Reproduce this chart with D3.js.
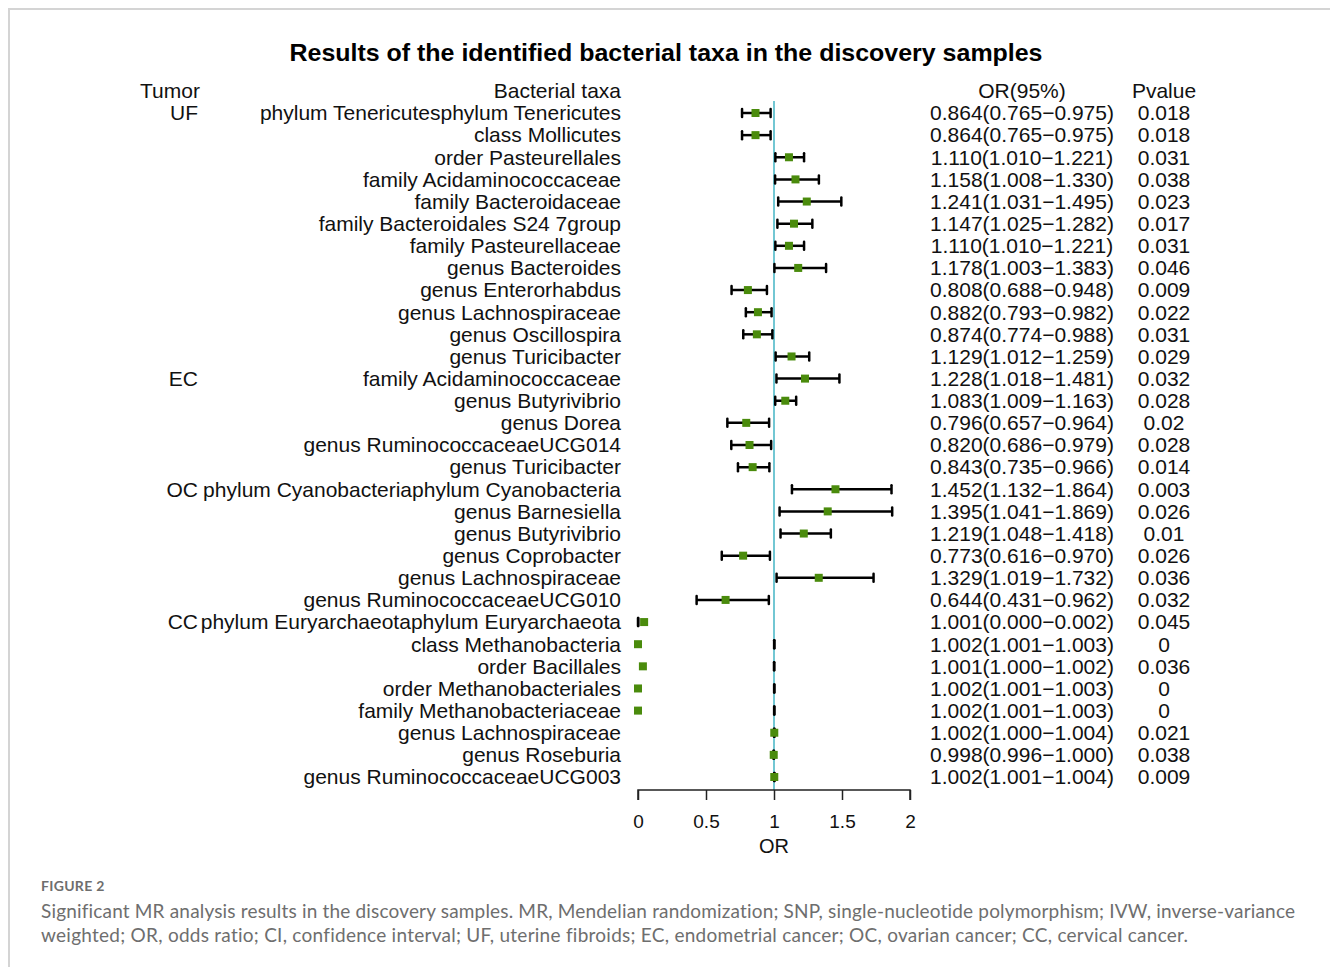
<!DOCTYPE html>
<html>
<head>
<meta charset="utf-8">
<script src="https://cdn.jsdelivr.net/npm/d3@7"></script>
<style>
  body { margin: 0; background: #fff; }
  svg { display: block; }
</style>
</head>
<body>
<svg id="chart"></svg>
<script>
// tumor group for each row (label shown on first row of the group)
var tumors = ["UF","UF","UF","UF","UF","UF","UF","UF","UF","UF","UF","UF",
  "EC","EC","EC","EC","EC",
  "OC","OC","OC","OC","OC","OC",
  "CC","CC","CC","CC","CC","CC","CC","CC"];

var taxa = [
  "phylum Tenericutesphylum Tenericutes","class Mollicutes","order Pasteurellales",
  "family Acidaminococcaceae","family Bacteroidaceae","family Bacteroidales S24 7group",
  "family Pasteurellaceae","genus Bacteroides","genus Enterorhabdus","genus Lachnospiraceae",
  "genus Oscillospira","genus Turicibacter",
  "family Acidaminococcaceae","genus Butyrivibrio","genus Dorea","genus RuminococcaceaeUCG014",
  "genus Turicibacter",
  "phylum Cyanobacteriaphylum Cyanobacteria","genus Barnesiella","genus Butyrivibrio",
  "genus Coprobacter","genus Lachnospiraceae","genus RuminococcaceaeUCG010",
  "phylum Euryarchaeotaphylum Euryarchaeota","class Methanobacteria","order Bacillales",
  "order Methanobacteriales","family Methanobacteriaceae","genus Lachnospiraceae",
  "genus Roseburia","genus RuminococcaceaeUCG003"];

var orVal = [0.864,0.864,1.110,1.158,1.241,1.147,1.110,1.178,0.808,0.882,0.874,1.129,
  1.228,1.083,0.796,0.820,0.843,
  1.452,1.395,1.219,0.773,1.329,0.644,
  1.001,1.002,1.001,1.002,1.002,1.002,0.998,1.002];
var ciLow = [0.765,0.765,1.010,1.008,1.031,1.025,1.010,1.003,0.688,0.793,0.774,1.012,
  1.018,1.009,0.657,0.686,0.735,
  1.132,1.041,1.048,0.616,1.019,0.431,
  0.000,1.001,1.000,1.001,1.001,1.000,0.996,1.001];
var ciHigh = [0.975,0.975,1.221,1.330,1.495,1.282,1.221,1.383,0.948,0.982,0.988,1.259,
  1.481,1.163,0.964,0.979,0.966,
  1.864,1.869,1.418,0.970,1.732,0.962,
  0.002,1.003,1.002,1.003,1.003,1.004,1.000,1.004];
var pText = ["0.018","0.018","0.031","0.038","0.023","0.017","0.031","0.046","0.009","0.022","0.031","0.029",
  "0.032","0.028","0.02","0.028","0.014",
  "0.003","0.026","0.01","0.026","0.036","0.032",
  "0.045","0","0.036","0","0","0.021","0.038","0.009"];
// where the square is actually drawn in the figure (a few CC rows sit near 0)
var pointPos = [0.864,0.864,1.110,1.158,1.241,1.147,1.110,1.178,0.808,0.882,0.874,1.129,
  1.228,1.083,0.796,0.820,0.843,
  1.452,1.395,1.219,0.773,1.329,0.644,
  0.045,0,0.036,0,0,1.002,0.998,1.002];

var xTicks = [0,0.5,1,1.5,2];

var W = 1330, H = 967;
var svg = d3.select("#chart").attr("width", W).attr("height", H);
var font = "'Liberation Sans', Arial, sans-serif";

// card border
svg.append("path")
  .attr("d", "M9,967 V9 H1330")
  .attr("fill","none").attr("stroke","#d4d4d4").attr("stroke-width",2);

svg.append("text")
  .attr("x", 666).attr("y", 53).attr("dy","0.35em")
  .attr("text-anchor","middle")
  .style("font-family", font).style("font-weight","bold").style("font-size","24px")
  .attr("textLength", 753).attr("lengthAdjust","spacingAndGlyphs")
  .text("Results of the identified bacterial taxa in the discovery samples");

var x = d3.scaleLinear().domain([0,2]).range([638,910]);
var y = d3.scaleLinear().domain([0, taxa.length-1]).range([113,777]);

var g = svg.append("g").style("font-family", font).style("font-size","21px").style("fill","#111");

// headers
var hy = 91;
g.append("text").attr("x",140).attr("y",hy).attr("dy","0.35em").text("Tumor");
g.append("text").attr("x",621).attr("y",hy).attr("dy","0.35em").attr("text-anchor","end").text("Bacterial taxa");
g.append("text").attr("x",1022).attr("y",hy).attr("dy","0.35em").attr("text-anchor","middle").text("OR(95%)");
g.append("text").attr("x",1164).attr("y",hy).attr("dy","0.35em").attr("text-anchor","middle").text("Pvalue");

var rows = taxa.map(function(t,i){ return {i:i, taxon:t, tumor:tumors[i], or:orVal[i], lo:ciLow[i], hi:ciHigh[i], p:pText[i], pt:pointPos[i]}; });

g.selectAll("text.tumor").data(rows.filter(function(d){ return d.i===0 || tumors[d.i-1]!==d.tumor; }))
  .enter().append("text").attr("class","tumor")
  .attr("x",198).attr("y",function(d){ return y(d.i); }).attr("dy","0.35em")
  .attr("text-anchor","end").text(function(d){ return d.tumor; });

g.selectAll("text.taxon").data(rows).enter().append("text").attr("class","taxon")
  .attr("x",621).attr("y",function(d){ return y(d.i); }).attr("dy","0.35em")
  .attr("text-anchor","end").text(function(d){ return d.taxon; });

g.selectAll("text.ortxt").data(rows).enter().append("text").attr("class","ortxt")
  .attr("x",1022).attr("y",function(d){ return y(d.i); }).attr("dy","0.35em")
  .attr("text-anchor","middle")
  .text(function(d){ return d.or.toFixed(3)+"("+d.lo.toFixed(3)+"\u2212"+d.hi.toFixed(3)+")"; });

g.selectAll("text.ptxt").data(rows).enter().append("text").attr("class","ptxt")
  .attr("x",1164).attr("y",function(d){ return y(d.i); }).attr("dy","0.35em")
  .attr("text-anchor","middle").text(function(d){ return d.p; });

// reference line at OR = 1
svg.append("line")
  .attr("x1",x(1)).attr("x2",x(1)).attr("y1",101).attr("y2",790)
  .attr("stroke","#72c7d3").attr("stroke-width",2);

var bars = svg.append("g");
bars.selectAll("line.ci").data(rows).enter().append("line")
  .attr("x1",function(d){ return x(d.lo); }).attr("x2",function(d){ return x(d.hi); })
  .attr("y1",function(d){ return y(d.i); }).attr("y2",function(d){ return y(d.i); })
  .attr("stroke","#000").attr("stroke-width",2.5);
["lo","hi"].forEach(function(k){
  bars.selectAll("line.cap"+k).data(rows).enter().append("line")
    .attr("x1",function(d){ return x(d[k]); }).attr("x2",function(d){ return x(d[k]); })
    .attr("y1",function(d){ return y(d.i)-4; }).attr("y2",function(d){ return y(d.i)+4; })
    .attr("stroke","#000").attr("stroke-width",2.5).attr("stroke-linecap","round");
});
bars.selectAll("rect.pt").data(rows).enter().append("rect")
  .attr("x",function(d){ return x(d.pt)-4; }).attr("y",function(d){ return y(d.i)-4; })
  .attr("width",8).attr("height",8).attr("fill","#4a8b0c");

// x axis
var axisG = svg.append("g").attr("transform","translate(0,790)")
  .call(d3.axisBottom(x).tickValues(xTicks).tickSize(10).tickPadding(15).tickFormat(d3.format("")));
axisG.select(".domain").attr("d","M"+x(0)+",10V0H"+x(2)+"V10").attr("stroke","#222").attr("stroke-width",1.5);
axisG.selectAll(".tick line").attr("stroke","#222").attr("stroke-width",1.5);
axisG.selectAll(".tick text").style("font-family",font).style("font-size","19px").attr("fill","#111");

svg.append("text").attr("x",x(1)).attr("y",846).attr("dy","0.35em").attr("text-anchor","middle")
  .style("font-family",font).style("font-size","20px").style("fill","#111").text("OR");

// caption
var cap = svg.append("g").style("font-family","Lato, 'Open Sans', sans-serif").style("fill","#6e6e6e")
  .style("font-variant-ligatures","none");
cap.append("text").attr("x",41).attr("y",886).attr("dy","0.35em")
  .style("font-size","14px").style("font-weight","bold").style("letter-spacing","0.3px").text("FIGURE 2");
cap.append("text").attr("x",41).attr("y",911).attr("dy","0.35em").style("font-size","19px")
  .attr("textLength",1254).attr("lengthAdjust","spacing")
  .text("Significant MR analysis results in the discovery samples. MR, Mendelian randomization; SNP, single-nucleotide polymorphism; IVW, inverse-variance");
cap.append("text").attr("x",41).attr("y",935).attr("dy","0.35em").style("font-size","19px")
  .attr("textLength",1147).attr("lengthAdjust","spacing")
  .text("weighted; OR, odds ratio; CI, confidence interval; UF, uterine fibroids; EC, endometrial cancer; OC, ovarian cancer; CC, cervical cancer.");
</script>
</body>
</html>
